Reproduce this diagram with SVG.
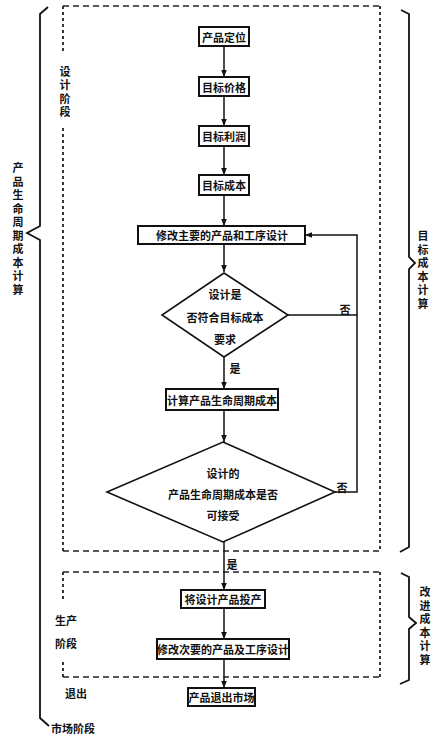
<svg xmlns="http://www.w3.org/2000/svg" width="439" height="742" viewBox="0 0 439 742">
<style>
text{font-family:"Noto Sans CJK SC","Noto Sans CJK TC",sans-serif;font-size:11px;font-weight:bold;fill:#111;text-anchor:middle;dominant-baseline:central}
.vt{writing-mode:vertical-rl;letter-spacing:2.5px}
.box{fill:#fff;stroke:#111;stroke-width:2}
.dia{fill:#fff;stroke:#111;stroke-width:1.6}
.ln{fill:none;stroke:#111;stroke-width:1.5}
.dh{fill:none;stroke:#222;stroke-width:1.6;stroke-dasharray:6 4}
.dv{fill:none;stroke:#222;stroke-width:1.8;stroke-dasharray:3 3}
.br{fill:none;stroke:#111;stroke-width:1.8;stroke-linejoin:miter}
</style>
<defs>
<marker id="ah" viewBox="0 0 10 10" refX="10" refY="5" markerWidth="7" markerHeight="7" markerUnits="userSpaceOnUse" orient="auto">
<path d="M0,1 L10,5 L0,9 Z" fill="#111"/>
</marker>
</defs>
<rect width="439" height="742" fill="#fff"/>

<g id="design-phase">
<path class="dh" d="M63,6 H380"/>
<path class="dh" d="M63,551 H380"/>
<path class="dv" d="M380,6 V551"/>
<path class="dv" d="M63,6 V54"/>
<path class="dv" d="M63,128 V551"/>
<text class="vt" x="65" y="93">设计阶段</text>
</g>

<g id="production-phase">
<path class="dh" d="M63,572 H380"/>
<path class="dh" d="M63,677 H380"/>
<path class="dv" d="M380,572 V677"/>
<path class="dv" d="M63,572 V602"/>
<path class="dv" d="M63,662 V677"/>
<text x="66" y="620">生产</text>
<text x="66" y="643">阶段</text>
</g>

<g id="exit-label">
<text x="76" y="693">退出</text>
<text x="73" y="728">市场阶段</text>
</g>

<g id="brace-left">
<path class="br" d="M48,7 L40,14 V226 L27,233 L40,240 V718 L49,726"/>
<text class="vt" x="18" y="230">产品生命周期成本计算</text>
</g>

<g id="brace-target">
<path class="br" d="M401,10 L409,14 V257 L415,263 L409,269 V547 L400,552"/>
<text class="vt" x="423" y="271">目标成本计算</text>
</g>

<g id="brace-improve">
<path class="br" d="M401,573 L409,577 V617 L416,623 L409,629 V680 L400,684"/>
<text class="vt" x="425" y="627">改进成本计算</text>
</g>

<g id="connectors">
<path class="ln" marker-end="url(#ah)" d="M224,46 V77"/>
<path class="ln" marker-end="url(#ah)" d="M224,96 V126"/>
<path class="ln" marker-end="url(#ah)" d="M224,146 V175"/>
<path class="ln" marker-end="url(#ah)" d="M224,195 V226"/>
<path class="ln" marker-end="url(#ah)" d="M224,244 V272"/>
<path class="ln" marker-end="url(#ah)" d="M224,357 V389"/>
<path class="ln" marker-end="url(#ah)" d="M224,410 V442"/>
<path class="ln" marker-end="url(#ah)" d="M224,542 V590"/>
<path class="ln" marker-end="url(#ah)" d="M224,608 V639"/>
<path class="ln" marker-end="url(#ah)" d="M224,659 V688"/>
<path class="ln" d="M288,315 H357 V492 H335"/>
<path class="ln" marker-end="url(#ah)" d="M357,315 V235 H305"/>
<text x="345" y="309">否</text>
<text x="342" y="487">否</text>
<text x="235" y="368">是</text>
<text x="232" y="564">是</text>
</g>

<g id="n1"><rect class="box" x="199" y="27" width="50" height="19"/><text x="224" y="36.5">产品定位</text></g>
<g id="n2"><rect class="box" x="199" y="77" width="50" height="19"/><text x="224" y="86.5">目标价格</text></g>
<g id="n3"><rect class="box" x="199" y="126" width="50" height="20"/><text x="224" y="136">目标利润</text></g>
<g id="n4"><rect class="box" x="199" y="175" width="50" height="20"/><text x="224" y="185">目标成本</text></g>
<g id="n5"><rect class="box" x="138" y="226" width="167" height="18"/><text x="222" y="235">修改主要的产品和工序设计</text></g>
<g id="d1"><path class="dia" d="M224,273 L288,315 L224,357 L162,315 Z"/><text x="225" y="294">设计是</text><text x="225" y="317">否符合目标成本</text><text x="225" y="339">要求</text></g>
<g id="n6"><rect class="box" x="166" y="389" width="112" height="21"/><text x="222" y="399.5">计算产品生命周期成本</text></g>
<g id="d2"><path class="dia" d="M223,442 L335,492 L223,542 L107,492 Z"/><text x="223" y="473">设计的</text><text x="223" y="494">产品生命周期成本是否</text><text x="223" y="515">可接受</text></g>
<g id="n7"><rect class="box" x="181" y="590" width="84" height="18"/><text x="223" y="599">将设计产品投产</text></g>
<g id="n8"><rect class="box" x="157" y="639" width="132" height="20"/><text x="223" y="649">修改次要的产品及工序设计</text></g>
<g id="n9"><rect class="box" x="188" y="688" width="67" height="18"/><text x="221.5" y="697">产品退出市场</text></g>
</svg>
